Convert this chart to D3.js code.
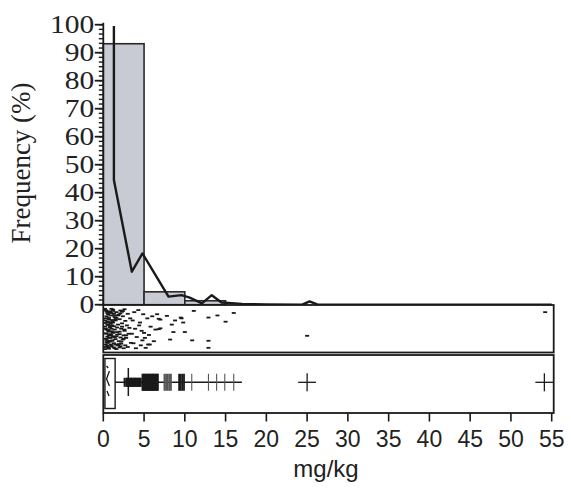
<!DOCTYPE html>
<html><head><meta charset="utf-8">
<script src="https://cdn.jsdelivr.net/npm/d3@7"></script>
<style>html,body{margin:0;padding:0;background:#fff;}svg{display:block;}</style>
</head><body>
<svg id="c" width="571" height="494"></svg>
<script>
// ---- data ----
const binEdges = [0,5,10,15];
const binFreq  = [93.2,4.6,1.4];
const polyX = [1.3,1.3,3.5,4.8,8.0,9.6,10.6,12.1,13.3,14.5,17,20,24.4,25.3,26.3,55];
const polyY = [99.5,44.5,11.8,18.3,2.9,3.4,2.5,0.5,3.4,0.8,0.3,0.1,0,1.2,0,0];
const stripVals = [0.3,0.5,0.8,1.2,1.6,2.1,2.6,0.4,0.9,1.4,1.9,2.4,3.0,0.2,0.7,1.1,1.5,2.0,2.7,3.3,0.5,0.9,1.3,1.8,2.3,2.9,0.3,0.6,1.0,1.4,1.7,2.2,2.6,3.2,0.4,0.8,1.2,1.6,2.0,2.5,3.1,0.3,0.7,1.1,1.5,1.9,2.4,2.8,0.5,0.9,1.3,1.8,2.2,2.7,3.4,0.2,0.6,1.0,1.4,2.0,2.5,3.0,0.6,1.0,1.7,2.1,0.8,1.2,2.3,1.6,0.4,0.7,1.0,1.3,0.5,0.9,1.1,0.3,0.6,1.5,
  0.2,0.4,0.6,0.8,1.0,1.2,0.3,0.5,0.7,0.9,1.1,1.3,0.2,0.4,0.6,0.8,1.0,0.3,0.5,0.7,0.9,1.2,0.4,0.6,0.8,1.1,1.4,0.3,0.5,0.7,1.0,1.3,0.2,0.6,0.9,1.2,1.5,1.8,2.1,2.4,1.7,2.0,2.3,2.6,1.9,2.2,2.5,2.8,1.6,2.1,
  3.8,4.3,4.9,3.6,4.5,5.4,3.9,4.7,5.8,4.1,5.1,3.7,4.6,5.5,6.2,4.0,5.0,6.0,5.6,4.4,6.4,5.2,3.5,4.8,
  11.1,16.0,14.0,12.9,15.0,9.6,8.4,9.8,8.8,7.8,7.0,6.6,10.0,8.6,7.0,8.2,10.9,12.9,12.9,5.7,9.5,6.8,6.8,25.0,54.2];
const stripJit = [0.05,0.12,0.08,0.04,0.10,0.06,0.03,0.20,0.18,0.22,0.16,0.20,0.14,0.30,0.28,0.33,0.30,0.27,0.31,0.25,0.40,0.38,0.44,0.40,0.37,0.42,0.50,0.55,0.50,0.52,0.58,0.50,0.55,0.48,0.62,0.66,0.60,0.68,0.63,0.66,0.62,0.74,0.72,0.78,0.75,0.80,0.76,0.72,0.84,0.88,0.85,0.90,0.86,0.90,0.84,0.94,0.96,0.93,0.97,0.95,0.97,0.94,0.34,0.12,0.47,0.71,0.46,0.69,0.09,0.24,0.82,0.57,0.66,0.14,0.91,0.63,0.42,0.36,0.79,0.88,
  0.02,0.08,0.15,0.11,0.02,0.07,0.25,0.33,0.24,0.36,0.29,0.18,0.45,0.52,0.41,0.47,0.56,0.61,0.69,0.65,0.72,0.58,0.77,0.83,0.81,0.79,0.70,0.88,0.92,0.98,0.90,0.95,0.99,0.53,0.43,0.35,0.27,0.18,0.13,0.07,0.64,0.57,0.45,0.52,0.87,0.81,0.74,0.66,0.99,0.92,
  0.10,0.05,0.15,0.30,0.35,0.25,0.50,0.55,0.45,0.70,0.72,0.85,0.90,0.88,0.80,0.97,0.60,0.20,0.65,0.42,0.52,0.96,0.62,0.78,
  0.07,0.12,0.18,0.23,0.33,0.25,0.40,0.35,0.30,0.19,0.28,0.15,0.58,0.58,0.49,0.76,0.78,0.79,0.96,0.88,0.23,0.26,0.51,0.67,0.10];
const boxQ1 = 0.2, boxQ3 = 1.45, whiskerEnd = 17.0, capVal = 3.07;
const outlierTicks = [2.6,2.8,2.9,3.0,3.1,3.2,3.3,3.4,3.5,3.6,3.7,3.8,3.9,4.0,4.1,4.2,4.3,4.4,4.5,4.6,
  4.8,4.9,5.0,5.1,5.2,5.3,5.4,5.5,5.6,5.7,5.8,5.9,6.0,6.1,6.2,6.3,6.4,6.5,6.6,6.7,
  7.5,7.7,7.9,8.1,8.3,9.3,9.5,9.7,9.9,10.85,12.9,13.9,14.9,16.0];
const farOutliers = [25.0,54.1];
const xTicks = [0,5,10,15,20,25,30,35,40,45,50,55];
const yTicks = [0,10,20,30,40,50,60,70,80,90,100];
const yLabel = "Frequency (%)";
const xLabel = "mg/kg";

// ---- drawing ----
const svg = d3.select("#c");
const x = d3.scaleLinear().domain([0,55]).range([103.3,551.7]);
const y = d3.scaleLinear().domain([0,100]).range([304.7,24.7]);
const stripTop = 305, stripBot = 352.5, boxTop = 355, boxBot = 413;
const ink = "#1a1a1a";

// histogram bars
const bins = binFreq.map((f,i)=>({x0:binEdges[i],x1:binEdges[i+1],f}));
svg.append("g").selectAll("rect").data(bins).join("rect")
  .attr("x",d=>x(d.x0)).attr("y",d=>y(d.f))
  .attr("width",d=>x(d.x1)-x(d.x0)).attr("height",d=>y(0)-y(d.f))
  .attr("fill","#c8cbd3").attr("stroke","#2a2a2a").attr("stroke-width",1.6);

// frequency polygon
svg.append("path").datum(polyX.map((v,i)=>[v,polyY[i]]))
  .attr("d",d3.line().x(d=>x(d[0])).y(d=>y(d[1])))
  .attr("fill","none").attr("stroke",ink).attr("stroke-width",2.4).attr("stroke-linejoin","round");

// y axis
const minor = d3.range(0,100.001,10/6);
const yAxis = svg.append("g").attr("transform",`translate(${x(0)},0)`);
yAxis.selectAll("line.mn").data(minor).join("line").attr("class","mn")
  .attr("x1",-4.5).attr("x2",0).attr("y1",d=>y(d)).attr("y2",d=>y(d))
  .attr("stroke",ink).attr("stroke-width",1.4);
yAxis.selectAll("line.mj").data(yTicks).join("line").attr("class","mj")
  .attr("x1",-8.5).attr("x2",0).attr("y1",d=>y(d)).attr("y2",d=>y(d))
  .attr("stroke",ink).attr("stroke-width",1.8);
yAxis.append("line").attr("x1",0).attr("x2",0).attr("y1",y(100)-2).attr("y2",y(0))
  .attr("stroke",ink).attr("stroke-width",1.8);
yAxis.selectAll("text").data(yTicks).join("text")
  .attr("transform",d=>`translate(-9,${y(d)}) scale(1.18,1)`)
  .attr("dy","0.35em").attr("text-anchor","end")
  .attr("font-family","'Liberation Serif','Times New Roman',serif").attr("font-size",25)
  .attr("fill","#222").text(d=>d);
svg.append("text").attr("transform",`translate(30,${163}) rotate(-90)`)
  .attr("text-anchor","middle").attr("font-family","'Liberation Serif','Times New Roman',serif")
  .attr("font-size",27).attr("fill","#222").text(yLabel);

// strip panel
svg.append("rect").attr("x",x(0)).attr("y",stripTop).attr("width",x(55)+2-x(0)).attr("height",stripBot-stripTop)
  .attr("fill","#fff").attr("stroke",ink).attr("stroke-width",1.8);
svg.append("g").selectAll("rect").data(stripVals.map((v,i)=>[v,stripJit[i]])).join("rect")
  .attr("x",d=>x(d[0])-2).attr("y",d=>stripTop+3+d[1]*(stripBot-stripTop-6)-0.9)
  .attr("width",4).attr("height",1.8).attr("fill",ink);

// box panel
svg.append("rect").attr("x",x(0)).attr("y",boxTop).attr("width",x(55)+2-x(0)).attr("height",boxBot-boxTop)
  .attr("fill","#fff").attr("stroke",ink).attr("stroke-width",1.8);
const cy = 382.3;
svg.append("rect").attr("x",x(boxQ1)).attr("y",358.5).attr("width",x(boxQ3)-x(boxQ1)).attr("height",50)
  .attr("fill","none").attr("stroke",ink).attr("stroke-width",1.4);
svg.append("path").attr("d",`M${x(0.75)},371 L${x(0.4)},379 L${x(0.75)},386 M${x(0.45)},391 L${x(0.7)},396 M${x(0.4)},366 L${x(0.6)},368`)
  .attr("fill","none").attr("stroke",ink).attr("stroke-width",1.3);
svg.append("line").attr("x1",x(boxQ3)).attr("x2",x(whiskerEnd)).attr("y1",cy).attr("y2",cy)
  .attr("stroke",ink).attr("stroke-width",1.4);
svg.append("line").attr("x1",x(capVal)).attr("x2",x(capVal)).attr("y1",368).attr("y2",396)
  .attr("stroke",ink).attr("stroke-width",1.5);
svg.append("g").selectAll("line").data(outlierTicks).join("line")
  .attr("x1",d=>x(d)).attr("x2",d=>x(d))
  .attr("y1",d=> d<4.7 ? cy-4.5 : cy-8.5).attr("y2",d=> d<4.7 ? cy+4.5 : cy+8.5)
  .attr("stroke",d=> (d>7 && d<9) || d>10.5 ? "#555" : ink)
  .attr("stroke-width",d=> d>10.5 ? 1.1 : 1.8);
const cross = svg.append("g").selectAll("g").data(farOutliers).join("g");
cross.append("line").attr("x1",d=>x(d)-9).attr("x2",d=>x(d)+9).attr("y1",cy).attr("y2",cy).attr("stroke",ink).attr("stroke-width",1.3);
cross.append("line").attr("x1",d=>x(d)).attr("x2",d=>x(d)).attr("y1",cy-9).attr("y2",cy+9).attr("stroke",ink).attr("stroke-width",1.3);

// x axis
const xAxis = svg.append("g").attr("transform",`translate(0,${boxBot})`);
xAxis.selectAll("line").data(xTicks).join("line")
  .attr("x1",d=>x(d)).attr("x2",d=>x(d)).attr("y1",0).attr("y2",8.5)
  .attr("stroke",ink).attr("stroke-width",1.6);
xAxis.selectAll("text").data(xTicks).join("text")
  .attr("x",d=>x(d)).attr("y",34).attr("text-anchor","middle")
  .attr("font-family","'Liberation Sans',Arial,sans-serif").attr("font-size",23)
  .attr("fill","#222").text(d=>d);
svg.append("text").attr("x",326).attr("y",477).attr("text-anchor","middle")
  .attr("font-family","'Liberation Sans',Arial,sans-serif").attr("font-size",24)
  .attr("fill","#222").text(xLabel);
</script>
</body></html>
